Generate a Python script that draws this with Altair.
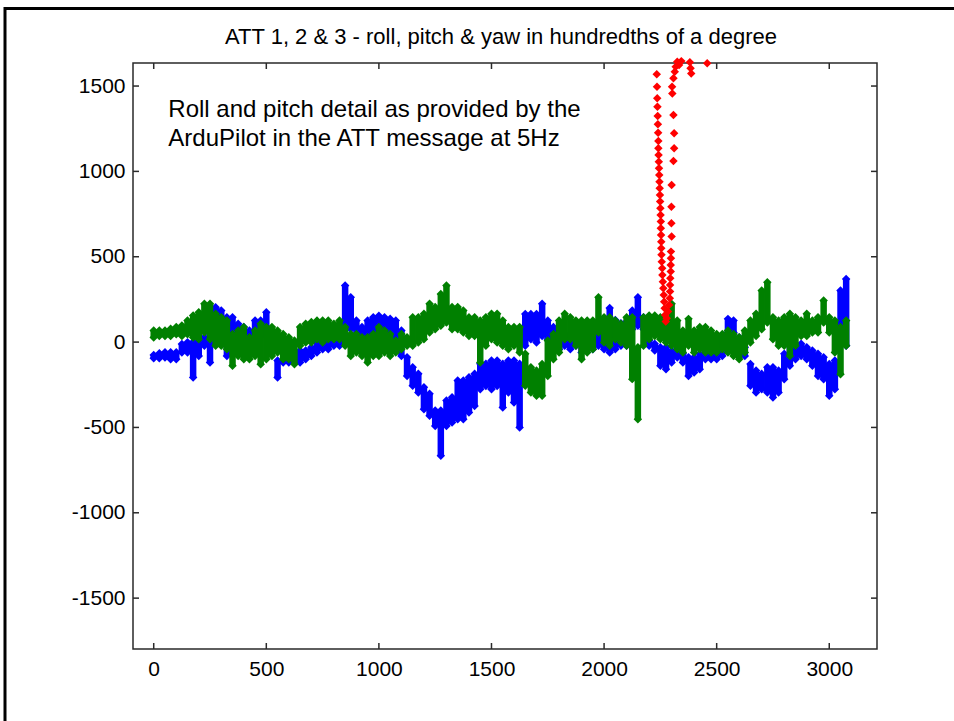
import altair as alt
import pandas as pd

# ---------------- data ----------------
TITLE = "ATT 1, 2 & 3 - roll, pitch & yaw in hundredths of a degree"
NOTE = "Roll and pitch detail as provided by the\nArduPilot in the ATT message at 5Hz"

x_ticks = [0, 500, 1000, 1500, 2000, 2500, 3000]
y_ticks = [-1500, -1000, -500, 0, 500, 1000, 1500]

# sample grid (every 25 samples) for the dense roll / pitch clouds
t_grid = list(range(0, 3076, 25))

roll_hi = [
    -75, -65, -59, -59, -59, -11, -1, 0, 9, 29, 48, 204, 185, 146, 146, 107, 88, 68, 127, 127,
    175, 68, -108, -49, -49, -69, -49, -49, -30, 9, 29, 9, 48, 68, 331, 263, 127, 88, 127, 146,
    155, 146, 137, 127, 68, -89, -147, -186, -264, -303, -401, -401, -342, -323, -225, -225, -206, -186, -127, -127,
    -108, -108, -127, -108, -108, -127, 165, 165, 165, 224, 126, 88, 48, 48, 48, 29, 100, 80, 90, 120,
    100, 200, 130, 110, 120,
    185, 263, 146, 9, -10, -30, -30, -49, -60, -69, -89, -89, -69, -49, -49, -30, 29, 136, 127, 29,
    -30, -128, -167, -186, -147, -147, -167, -69, -10, -10, -10, -30, -49, -69, -89, -128, -108, 302, 370,
]
roll_lo = [
    -95, -95, -91, -100, -100, -61, -61, -208, -81, -22, -120, 100, 75, -81, 56, 17, -22, -61, 17, 36,
    36, -61, -208, -120, -120, -120, -120, -100, -81, -61, -42, -42, -22, -22, 75, 75, 17, -3, -3, 36,
    55, 56, 56, 17, -81, -198, -256, -295, -393, -432, -491, -666, -491, -471, -452, -452, -413, -374, -276, -257,
    -276, -257, -383, -296, -354, -500, -22, 17, -3, 36, 17, -3, -42, -22, -42, -22, -61, -42, -42, -22,
    -42, -61, -42, -22, -22,
    75, 95, 75, -22, -49, -139, -159, -120, -90, -120, -198, -178, -159, -100, -100, -100, -81, 56, 56, -42,
    -81, -256, -296, -276, -296, -325, -296, -218, -139, -100, -81, -100, -139, -198, -218, -315, -276, 17, -22,
]
pitch_hi = [
    68, 68, 68, 78, 88, 97, 127, 156, 175, 224, 224, 166, 146, 127, 48, 68, 88, 29, 68, 107,
    88, 88, 68, 48, 29, 9, 88, 107, 117, 127, 127, 127, 107, 127, 88, 48, 48, 29, 29, 48,
    88, 68, 48, 9, 48, 29, 146, 146, 166, 224, 205, 282, 331, 205, 205, 185, 146, 146, 127, 146,
    166, 166, 127, 88, 88, 88, -69, -147, -167, -128, 9, 48, 127, 166, 146, 127, 127, 127, 127, 263,
    146, 146, 127, 107, 146,
    146, -30, 146, 156, 156, 146, 127, 224, 127, 68, 136, 68, 88, 88, 68, 48, 48, 68, 48, 29,
    68, 127, 166, 302, 350, 146, 127, 146, 166, 146, 127, 166, 127, 146, 243, 146, 127, 88, 127,
]
pitch_lo = [
    27, 36, 36, 36, 46, 36, 46, 27, 17, 56, 17, -22, -22, -42, -139, -81, -100, -100, -81, -130,
    -100, -81, -61, -100, -100, -130, -22, -3, -3, 17, -3, 17, 17, 17, -22, -81, -61, -81, -120, -81,
    -81, -61, -81, -61, -42, -22, -22, -3, 17, 56, 75, 95, 114, 75, 75, 56, 36, 36, -120, -22,
    17, -3, -22, -42, -22, -61, -256, -296, -315, -315, -198, -100, -61, 17, 17, -22, -100, -61, -42, 56,
    -3, -22, 17, -3, -22,
    -217, -452, -22, 17, 36, 17, -3, -22, -42, -61, -22, -61, -42, -61, -61, -61, -42, -61, -81, -100,
    -61, -3, 36, 75, 114, 17, -22, -22, -81, -22, 36, 36, 56, 56, 114, 56, -61, -188, -22,
]

# yaw (ATT 3) points, sample index and value
yaw_t = [
    2234, 2235, 2236, 2237, 2238, 2239, 2240, 2241, 2241, 2242, 2243, 2244, 2245, 2246, 2247, 2248,
    2249, 2250, 2251, 2252, 2252, 2253, 2254, 2254, 2255, 2256, 2258, 2259, 2261, 2263, 2265, 2267,
    2269, 2271, 2274,
    2278, 2284, 2289, 2292, 2293, 2293, 2294, 2296, 2296, 2297, 2297, 2300, 2299, 2299, 2300, 2308,
    2311, 2311, 2308, 2303, 2302, 2308, 2314, 2318, 2325, 2333, 2343, 2381, 2384, 2387, 2458,
]
yaw_v = [
    1569, 1496, 1428, 1379, 1325, 1276, 1227, 1178, 1135, 1096, 1057, 1018, 979, 940, 901, 862,
    823, 784, 745, 706, 667, 628, 588, 550, 511, 471, 433, 393, 354, 316, 276, 237,
    198, 159, 120,
    140, 179, 218, 257, 296, 335, 374, 413, 452, 491, 530, 618, 696, 793, 920, 1061,
    1135, 1223, 1330, 1457, 1496, 1545, 1584, 1613, 1642, 1623, 1646, 1639, 1604, 1574, 1633,
]

note_t = [65]
note_v = [1318]

# ---------------- chart ----------------
W, H = 744, 586
FONT = "Liberation Sans"
BLUE, GREEN, RED = "#0000ff", "#008000", "#ff0000"
BOX = "#2a2a2a"
MS = 72  # marker area

xs = alt.Scale(domain=[-92, 3212], nice=False, zero=False)
ys = alt.Scale(domain=[-1798, 1635], nice=False, zero=False)

x_axis = alt.Axis(values=x_ticks, tickSize=0, domain=False, grid=False, labelFont=FONT,
                  labelFontSize=21, labelColor="black", labelPadding=9, title="",
                  labelExpr="datum.value + ''")
y_axis = alt.Axis(values=y_ticks, tickSize=0, domain=False, grid=False, labelFont=FONT,
                  labelFontSize=21, labelColor="black", labelPadding=8, title="",
                  labelExpr="datum.value + ''")


def X(f):
    return alt.X(f, type="quantitative", scale=xs, axis=x_axis)


def Y(f):
    return alt.Y(f, type="quantitative", scale=ys, axis=y_axis)


def cloud(hi, lo, color):
    df = pd.DataFrame({"t": t_grid, "hi": hi, "lo": lo})
    base = alt.Chart(df)
    body = base.mark_rule(color=color, strokeWidth=6.5).encode(x=X("t"), y=Y("lo"), y2="hi")
    top = base.mark_point(shape="diamond", filled=True, size=MS, color=color, opacity=1).encode(
        x=X("t"), y=Y("hi"))
    bot = base.mark_point(shape="diamond", filled=True, size=MS, color=color, opacity=1).encode(
        x=X("t"), y=Y("lo"))
    return [body, top, bot]


yaw_df = pd.DataFrame({"t": yaw_t, "v": yaw_v})
yaw = alt.Chart(yaw_df).mark_point(shape="diamond", filled=True, size=MS, color=RED, opacity=1).encode(
    x=X("t"), y=Y("v"))

xt = pd.DataFrame({"v": x_ticks})
yt = pd.DataFrame({"v": y_ticks})
tick_b = alt.Chart(xt).mark_rule(color=BOX, strokeWidth=1.5).encode(
    x=X("v"), y=alt.value(H), y2=alt.value(H - 6))
tick_t = alt.Chart(xt).mark_rule(color=BOX, strokeWidth=1.5).encode(
    x=X("v"), y=alt.value(0), y2=alt.value(6))
tick_l = alt.Chart(yt).mark_rule(color=BOX, strokeWidth=1.5).encode(
    y=Y("v"), x=alt.value(0), x2=alt.value(6))
tick_r = alt.Chart(yt).mark_rule(color=BOX, strokeWidth=1.5).encode(
    y=Y("v"), x=alt.value(W), x2=alt.value(W - 6))

note_df = pd.DataFrame({"t": note_t, "v": note_v, "txt": [NOTE]})
note = alt.Chart(note_df).mark_text(align="left", baseline="alphabetic", font=FONT, fontSize=24,
                                    color="black", lineBreak="\n", lineHeight=29).encode(
    x=X("t"), y=Y("v"), text="txt:N")

one = pd.DataFrame({"label": [TITLE]})
title = alt.Chart(one).mark_text(align="center", baseline="alphabetic", font=FONT, fontSize=22,
                                 color="black").encode(
    x=alt.value(W / 2 - 4), y=alt.value(-19), text="label:N")
frame_top = alt.Chart(one).mark_rule(color="black", strokeWidth=3).encode(
    x=alt.value(-129), x2=alt.value(W + 80), y=alt.value(-54.5))
frame_left = alt.Chart(one).mark_rule(color="black", strokeWidth=3).encode(
    x=alt.value(-128), y=alt.value(-56), y2=alt.value(H + 80))

layers = cloud(roll_hi, roll_lo, BLUE) + cloud(pitch_hi, pitch_lo, GREEN) + [
    yaw, tick_b, tick_t, tick_l, tick_r, note, title, frame_top, frame_left]

chart = alt.layer(*layers).properties(
    width=W, height=H,
    background="white",
    autosize=alt.AutoSizeParams(type="none"),
    padding={"left": 133, "top": 63, "right": 77, "bottom": 72},
).configure_view(stroke=BOX, strokeWidth=1.5)

chart.save("out.html", embed_options={"renderer": "svg", "actions": False})
